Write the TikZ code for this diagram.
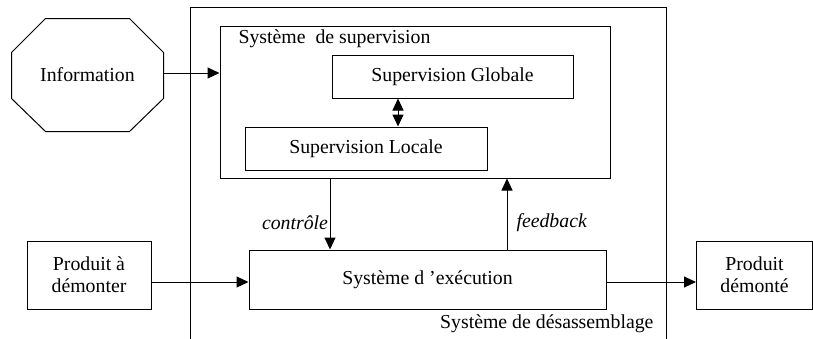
\documentclass[tikz,border=0pt]{standalone}
\usepackage{fontspec}
\setmainfont{Liberation Serif}
\usetikzlibrary{arrows.meta}

\tikzset{
	box/.style={draw, line width=1pt, inner sep=0pt, align=center},
}

\begin{document}
\begin{tikzpicture}[x=1pt, y=-1pt, >={Triangle[length=12pt,width=11pt]}, line width=1pt,
	font=\fontsize{19.8}{22}\selectfont]
	\useasboundingbox (0,0) rectangle (813,338);

	%% Guide coordinates for the connectors
	\coordinate (infoflow) at (0,73);
	\coordinate (flow) at (0,282);
	\coordinate (dbl) at (398,0);
	\coordinate (ctl) at (330,0);
	\coordinate (fbk) at (507,0);

	%% Outer system (its bottom edge falls below the picture)
	\node [box, minimum width=476pt, minimum height=345pt, anchor=north west] (desass) at (190,7) {};
	\node [anchor=base east, inner sep=0pt] (desasslbl) at (654,328) {Système de désassemblage};

	%% Information octagon
	\node [minimum width=151pt, minimum height=112pt, inner sep=0pt] (info) at (87.5,75) {Information};
	\draw ([xshift=34pt]info.north west) -- ([xshift=-34pt]info.north east)
		-- ([yshift=-34pt]info.north east) -- ([yshift=33pt]info.south east)
		-- ([xshift=-34pt]info.south east) -- ([xshift=34pt]info.south west)
		-- ([yshift=33pt]info.south west) -- ([yshift=-34pt]info.north west) -- cycle;

	%% Supervision
	\node [box, minimum width=390pt, minimum height=152pt] (sup) at (415,102) {};
	\node [anchor=base west, inner sep=0pt] (suptitle) at (238,43) {Système\ \ de supervision};
	\node [box, minimum width=241pt, minimum height=43pt] (glob) at (452.5,76.5) {Supervision Globale};
	\node [box, minimum width=242pt, minimum height=43pt] (loc) at (366,148.5) {Supervision Locale};
	\draw [<->] (glob.south -| dbl) -- (loc.north -| dbl);

	%% Execution
	\node [box, minimum width=357pt, minimum height=59pt] (exec) at (427.5,279.5) {Système d 'exécution};
	\node [box, minimum width=124pt, minimum height=68pt] (prod) at (89,275) {Produit à\\démonter};
	\node [box, minimum width=116pt, minimum height=68pt] (dem) at (754.5,275) {Produit\\démonté};

	%% Flows
	\draw [->] (info.east |- infoflow) -- (sup.west |- infoflow);
	\draw [->] (sup.south -| ctl) -- node [left, pos=0.62, inner sep=1.5pt] (ctllbl) {\textit{contrôle}} (exec.north -| ctl);
	\draw [->] (exec.north -| fbk) -- node [right, pos=0.38, inner sep=9pt] (fbklbl) {\textit{feedback}} (sup.south -| fbk);
	\draw [->] (prod.east |- flow) -- (exec.west |- flow);
	\draw [->] (exec.east |- flow) -- (dem.west |- flow);
\end{tikzpicture}
\end{document}
